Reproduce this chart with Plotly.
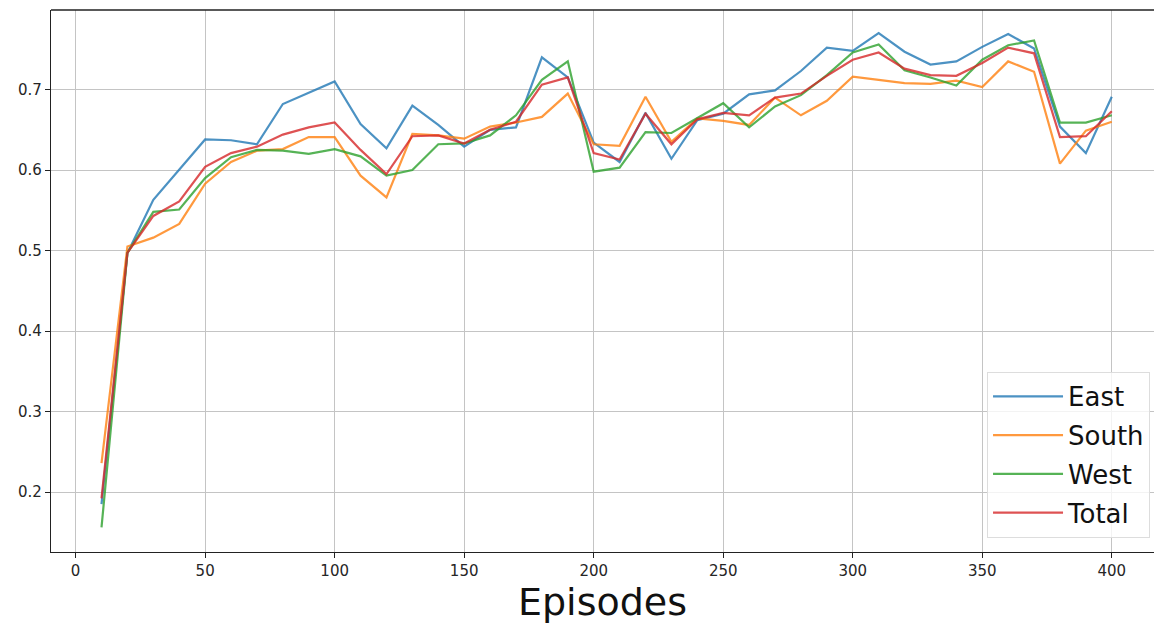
import plotly.graph_objects as go

episodes = list(range(10, 401, 10))

east = [0.185, 0.497, 0.563, 0.600, 0.638, 0.637, 0.632, 0.682, 0.696, 0.710,
        0.657, 0.627, 0.680, 0.656, 0.629, 0.650, 0.653, 0.740, 0.715, 0.634,
        0.610, 0.671, 0.614, 0.662, 0.670, 0.694, 0.699, 0.723, 0.752, 0.748,
        0.770, 0.747, 0.731, 0.735, 0.753, 0.769, 0.751, 0.654, 0.621, 0.691]

south = [0.236, 0.505, 0.516, 0.533, 0.583, 0.610, 0.624, 0.626, 0.641, 0.641,
         0.593, 0.566, 0.645, 0.643, 0.639, 0.654, 0.659, 0.666, 0.695, 0.632,
         0.630, 0.691, 0.635, 0.664, 0.661, 0.656, 0.690, 0.668, 0.686, 0.716,
         0.712, 0.708, 0.707, 0.711, 0.703, 0.735, 0.722, 0.608, 0.649, 0.660]

west = [0.156, 0.497, 0.548, 0.551, 0.590, 0.616, 0.625, 0.624, 0.620, 0.626,
        0.617, 0.593, 0.600, 0.632, 0.633, 0.643, 0.668, 0.712, 0.735, 0.598,
        0.603, 0.647, 0.646, 0.665, 0.683, 0.653, 0.679, 0.693, 0.718, 0.746,
        0.756, 0.724, 0.715, 0.705, 0.737, 0.755, 0.761, 0.659, 0.659, 0.668]

total = [0.192, 0.497, 0.543, 0.561, 0.604, 0.621, 0.629, 0.644, 0.653, 0.659,
         0.625, 0.595, 0.642, 0.643, 0.633, 0.650, 0.660, 0.706, 0.715, 0.621,
         0.613, 0.670, 0.632, 0.663, 0.671, 0.668, 0.690, 0.695, 0.717, 0.737,
         0.746, 0.726, 0.718, 0.717, 0.733, 0.752, 0.745, 0.641, 0.642, 0.673]

series = [("East", east, "rgba(31,119,180,0.8)"),
          ("South", south, "rgba(255,127,14,0.8)"),
          ("West", west, "rgba(44,160,44,0.8)"),
          ("Total", total, "rgba(214,39,40,0.8)")]

fig = go.Figure()
for name, vals, col in series:
    fig.add_trace(go.Scatter(x=episodes, y=vals, mode="lines", name=name,
                             legendgroup=name,
                             line=dict(color=col, width=2.2)))

axis_common = dict(showgrid=True, gridcolor="#c4c4c4", gridwidth=1.2,
                   zeroline=False, showline=True, linecolor="#222222", linewidth=1.3,
                   ticks="outside", ticklen=5, tickwidth=1.2, tickcolor="#222222",
                   automargin=False,
                   tickfont=dict(family="DejaVu Sans", size=15, color="#262626"))

fig.update_layout(
    width=1155, height=627,
    margin=dict(l=51, r=1, t=10, b=75),
    paper_bgcolor="white", plot_bgcolor="white",
    font=dict(family="DejaVu Sans", color="#111111"),
    xaxis=dict(range=[-9.5, 416.3], tickmode="array",
               tickvals=[0, 50, 100, 150, 200, 250, 300, 350, 400],
               mirror=False,
               title=dict(text="Episodes", font=dict(family="DejaVu Sans", size=38, color="#111111"),
                          standoff=4),
               **axis_common),
    yaxis=dict(range=[0.1255, 0.7988], tickmode="array",
               tickvals=[0.2, 0.3, 0.4, 0.5, 0.6, 0.7], tickformat=".1f",
               **axis_common),
    legend=dict(x=0.9964, y=0.026, xanchor="right", yanchor="bottom",
                bgcolor="rgba(255,255,255,0.8)", bordercolor="#dddddd", borderwidth=1,
                font=dict(family="DejaVu Sans", size=26, color="#111111"),
                tracegroupgap=2, itemwidth=70),
    showlegend=True,
)

# top spine
fig.add_shape(type="line", xref="paper", yref="paper", x0=0, x1=1, y0=1, y1=1,
              line=dict(color="#222222", width=1.3))

fig.write_html("out.html", config={"displayModeBar": False},
               post_script="document.body.style.margin='0';document.body.style.overflow='hidden';")
